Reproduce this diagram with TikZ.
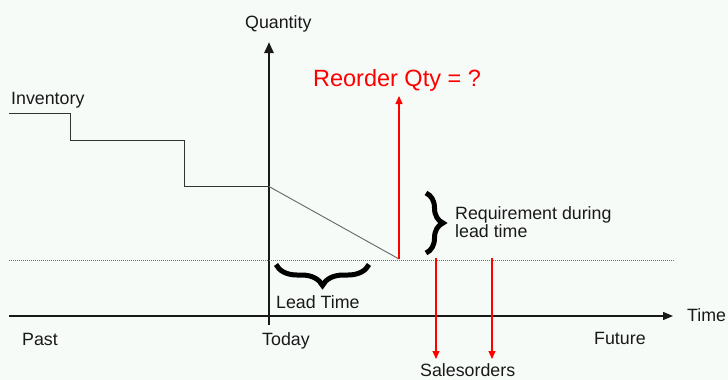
\documentclass[tikz,border=0pt]{standalone}
\usepackage{fontspec}
\setmainfont{Liberation Sans}
\usetikzlibrary{arrows.meta,decorations.pathreplacing}
\definecolor{bg}{RGB}{247,251,248}
\definecolor{txt}{RGB}{25,25,25}
\definecolor{myred}{RGB}{255,0,0}
\definecolor{dotgray}{RGB}{110,110,110}
\begin{document}
\begin{tikzpicture}[x=1pt,y=-1pt,
  lbl/.style={font=\fontsize{17.8}{17.5}\selectfont, text=txt, inner sep=0pt, anchor=base west},
  haxis/.style={line width=1.3pt, draw=txt, -{Triangle[length=10pt,width=8pt]}},
  vaxis/.style={line width=2.5pt, draw=txt, -{Triangle[length=11pt,width=9pt]}},
  redarrow/.style={draw=myred, fill=myred, line width=1.1pt, -{Triangle[length=8pt,width=7pt]}},
  invline/.style={line width=1pt, draw=black!80},
  slope/.style={line width=0.9pt, draw=black!60},
  dotline/.style={draw=dotgray, line width=1pt, dash pattern=on 1pt off 1pt},
  curlybrace/.style={decorate, decoration={brace, amplitude=#1}, line width=5pt, draw=black},
]
\fill[bg] (0,0) rectangle (728,380);
\useasboundingbox (0,0) rectangle (728,380);

% axes
\coordinate (qbot) at (269,325);
\coordinate (qtop) at (269,42);
\coordinate (tstart) at (9,316);
\coordinate (tend) at (673,316);
\draw[vaxis] (qbot) -- (qtop);
\draw[haxis] (tstart) -- (tend);

% dotted safety line
\coordinate (dstart) at (9,260);
\coordinate (dend) at (675,260);
\draw[dotline] (dstart) -- (dend);

% inventory profile
\coordinate (inv0) at (9,113.5);
\coordinate (today) at (269,186.5);
\coordinate (reorder) at (399,259);
\draw[invline] (inv0) -- (70,113.5) -- (70,140.5) -- (184,140.5) -- (184,186.5) -- (today);
\draw[slope] (today) -- (reorder);

% reorder arrow
\coordinate (rqtip) at (399,96);
\draw[redarrow] (reorder) -- (rqtip);
\node[lbl, anchor=base, text=myred, font=\fontsize{23.5}{23.5}\selectfont] (rq) at (397,86) {Reorder Qty = ?};

% sales orders
\coordinate (s1top) at (436,258);
\coordinate (s1bot) at (436,359);
\coordinate (s2top) at (492,258);
\coordinate (s2bot) at (492,359);
\draw[redarrow] (s1top) -- (s1bot);
\draw[redarrow] (s2top) -- (s2bot);

% braces
\coordinate (rbA) at (426,193);
\coordinate (rbB) at (426,253);
\draw[curlybrace=17pt] (rbA) -- (rbB);
\coordinate (bbA) at (369,264.5);
\coordinate (bbB) at (276,264.5);
\draw[curlybrace=21pt] (bbA) -- (bbB);

% labels
\node[lbl] (quantity) at (245,28.5) {Quantity};
\node[lbl] (inventory) at (11,104) {Inventory};
\node[lbl] (req1) at (455,219.5) {Requirement during};
\node[lbl] (req2) at (455,237) {lead time};
\node[lbl] (leadtime) at (276,308.3) {Lead Time};
\node[lbl] (past) at (22,345) {Past};
\node[lbl] (todaylbl) at (262,345) {Today};
\node[lbl] (future) at (594,344.5) {Future};
\node[lbl] (time) at (687,321.5) {Time};
\node[lbl] (sales) at (420,376.5) {Salesorders};
\end{tikzpicture}
\end{document}
